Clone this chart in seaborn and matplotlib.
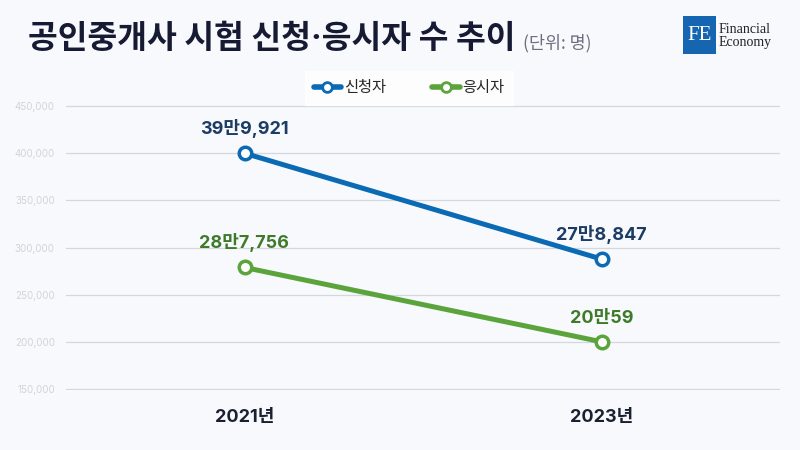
import matplotlib
matplotlib.use("Agg")
import matplotlib.pyplot as plt
import seaborn as sns
import pandas as pd
from matplotlib.patches import Rectangle
from matplotlib.lines import Line2D

# data (positions as drawn in the reference; labels as printed)
years = ["2021년", "2023년"]
applicants = [399921, 287756]
examinees = [278847, 200059]
applicant_labels = ["39만9,921", "27만8,847"]
examinee_labels = ["28만7,756", "20만59"]
yticks = [150000, 200000, 250000, 300000, 350000, 400000, 450000]

BG = "#f7f9fc"
BLUE = "#0a6ab4"
GREEN = "#5ba33b"
BLUE_TXT = "#1c3c64"
GREEN_TXT = "#3f7a2a"
NUM_FONT = ['Inter', 'Noto Sans CJK KR']

sns.set_theme(style="white")
plt.rcParams['font.family'] = ['Noto Sans CJK KR', 'DejaVu Sans']

df = pd.DataFrame({
    "year": years * 2,
    "value": applicants + examinees,
    "series": ["신청자"] * len(years) + ["응시자"] * len(years),
})
palette = {"신청자": BLUE, "응시자": GREEN}

fig = plt.figure(figsize=(8, 4.5), dpi=100, facecolor=BG)
ax = fig.add_axes([0.0825, 0.1334, 0.8925, 0.6332])
ax.set_facecolor(BG)

sns.lineplot(data=df, x="year", y="value", hue="series",
             palette=palette, linewidth=3.6, ax=ax, legend=False, zorder=3)
for line, name in zip(ax.lines, palette):
    line.set_marker("o")
    line.set_markersize(9)
    line.set_markerfacecolor("white")
    line.set_markeredgecolor(palette[name])
    line.set_markeredgewidth(2.5)

ax.set_xlim(-0.5, 1.5)
ax.set_ylim(149000, 451000)
ax.set_yticks(yticks)
ax.set_yticklabels([f"{v:,}" for v in yticks], fontsize=7, color="#d0d4db",
                   family=NUM_FONT)
ax.tick_params(axis="y", length=0, pad=8)
ax.tick_params(axis="x", length=0, pad=14)
for lbl in ax.get_xticklabels():
    lbl.set_fontsize(13)
    lbl.set_fontweight("bold")
    lbl.set_color("#1b2030")
    lbl.set_family(NUM_FONT)
ax.grid(axis="y", color="#d3d7de", linewidth=0.9)
for s in ax.spines.values():
    s.set_visible(False)
ax.set_xlabel("")
ax.set_ylabel("")

for i in range(len(years)):
    ax.annotate(applicant_labels[i], (i, applicants[i]), xytext=(0, 11),
                textcoords="offset points", ha="center", va="bottom",
                fontsize=13, fontweight="bold", color=BLUE_TXT, family=NUM_FONT)
    ax.annotate(examinee_labels[i], (i, examinees[i]), xytext=(0, 11),
                textcoords="offset points", ha="center", va="bottom",
                fontsize=13, fontweight="bold", color=GREEN_TXT, family=NUM_FONT)

# legend
handles = [Line2D([], [], color=c, lw=4, marker="o", markersize=7,
                  markerfacecolor="white", markeredgecolor=c, markeredgewidth=2)
           for c in palette.values()]
leg = fig.legend(handles, list(palette), loc="center", ncol=2,
                 bbox_to_anchor=(0.5115, 0.805), frameon=True, fontsize=11,
                 handlelength=1.8, handletextpad=0.2, columnspacing=3.0,
                 borderpad=0.55, fancybox=False)
leg.get_frame().set_facecolor("white")
leg.get_frame().set_edgecolor("white")

# title
fig.text(0.035, 0.912, "공인중개사 시험 신청·응시자 수 추이", fontsize=23.3,
         fontweight="bold", color="#161b33", va="center",
         family=['Inter', 'Noto Sans CJK KR'])
fig.text(0.654, 0.905, "(단위: 명)", fontsize=12.5, color="#6b6f80", va="center")

# logo
fig.patches.append(Rectangle((0.854, 0.88), 0.041, 0.084, transform=fig.transFigure,
                             facecolor="#1565b0", edgecolor="none"))
fig.text(0.8745, 0.921, "FE", fontsize=15, family="Liberation Serif", color="white",
         ha="center", va="center")
fig.text(0.898, 0.921, "Financial\nEconomy", fontsize=10, family="Liberation Serif",
         color="#222222", ha="left", va="center", linespacing=1.0)

fig.savefig("out.png", dpi=100, facecolor=BG)
